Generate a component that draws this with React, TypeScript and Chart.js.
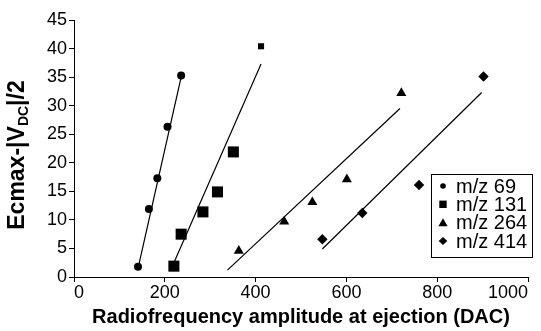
import React, { useEffect, useRef } from "react";
import { Chart, registerables } from "chart.js";

Chart.register(...registerables);

// ---- data ----
const SERIES_NAMES = ["m/z 69", "m/z 131", "m/z 264", "m/z 414"];

const mz69X = [141, 165, 183.5, 206, 236];
const mz69Y = [1.8, 11.9, 17.3, 26.3, 35.3];

const mz131X = [220, 236, 284, 316, 351, 412];
const mz131Y = [1.9, 7.5, 11.4, 14.9, 21.9, 40.4];

const mz264X = [363, 463, 525, 601, 721];
const mz264Y = [4.6, 9.7, 13.1, 17.1, 32.2];

const mz414X = [547, 635, 760, 902];
const mz414Y = [6.6, 11.2, 16.1, 35.1];

// trend line end points
const fit69X = [141, 236];
const fit69Y = [1.5, 35];
const fit131X = [214, 412];
const fit131Y = [1.4, 37.3];
const fit264X = [338, 718];
const fit264Y = [1.2, 29.5];
const fit414X = [547, 898];
const fit414Y = [4.9, 32.3];

const X_TICK_MIN = 0;
const X_TICK_MAX = 1000;
const X_TICK_STEP = 200;
const Y_TICK_MIN = 0;
const Y_TICK_MAX = 45;
const Y_TICK_STEP = 5;

const X_TITLE = "Radiofrequency amplitude at ejection (DAC)";
const Y_TITLE_PARTS = ["Ecmax-|V", "DC", "|/2"];

const FAMILY = '"Liberation Sans", Arial, Helvetica, sans-serif';

const toPts = (xs: number[], ys: number[]) => xs.map((x, i) => ({ x, y: ys[i] }));

const yTitlePlugin = {
  id: "yTitleSub",
  afterDraw(chart: any) {
    const ctx = chart.ctx as CanvasRenderingContext2D;
    const mainFont = `bold 23px ${FAMILY}`;
    const subFont = `bold 14px ${FAMILY}`;
    ctx.save();
    ctx.font = mainFont;
    const w1 = ctx.measureText(Y_TITLE_PARTS[0]).width;
    const w3 = ctx.measureText(Y_TITLE_PARTS[2]).width;
    ctx.font = subFont;
    const w2 = ctx.measureText(Y_TITLE_PARTS[1]).width;
    const total = w1 + w2 + w3;
    ctx.translate(18, 155);
    ctx.rotate(-Math.PI / 2);
    ctx.fillStyle = "#000";
    ctx.textBaseline = "middle";
    ctx.textAlign = "left";
    let x = -total / 2;
    ctx.font = mainFont;
    ctx.fillText(Y_TITLE_PARTS[0], x, 0);
    x += w1;
    ctx.font = subFont;
    ctx.fillText(Y_TITLE_PARTS[1], x, 6);
    x += w2;
    ctx.font = mainFont;
    ctx.fillText(Y_TITLE_PARTS[2], x, 0);
    ctx.restore();
  },
};

const legendPlugin = {
  id: "boxLegend",
  afterDraw(chart: any) {
    const ctx = chart.ctx as CanvasRenderingContext2D;
    const { right, bottom } = chart.chartArea;
    const left = right - 97;
    const top = bottom - 103;
    const w = 101;
    const h = 83;
    ctx.save();
    ctx.fillStyle = "#fff";
    ctx.fillRect(left, top, w, h);
    ctx.strokeStyle = "#000";
    ctx.lineWidth = 1;
    ctx.strokeRect(left + 0.5, top + 0.5, w, h);
    const rows = [12, 30.3, 48.7, 67];
    ctx.fillStyle = "#000";
    ctx.font = `20px ${FAMILY}`;
    ctx.textBaseline = "middle";
    ctx.textAlign = "left";
    SERIES_NAMES.forEach((name, i) => {
      const cy = top + rows[i];
      const cx = left + 12;
      ctx.beginPath();
      if (i === 0) {
        ctx.arc(cx, cy, 2.8, 0, Math.PI * 2);
      } else if (i === 1) {
        ctx.rect(cx - 3.7, cy - 3.7, 7.4, 7.4);
      } else if (i === 2) {
        ctx.moveTo(cx, cy - 4.5);
        ctx.lineTo(cx + 4.6, cy + 3.5);
        ctx.lineTo(cx - 4.6, cy + 3.5);
        ctx.closePath();
      } else {
        ctx.moveTo(cx, cy - 4);
        ctx.lineTo(cx + 4.3, cy);
        ctx.lineTo(cx, cy + 4);
        ctx.lineTo(cx - 4.3, cy);
        ctx.closePath();
      }
      ctx.fill();
      ctx.fillText(name, left + 25, cy + 1);
    });
    ctx.restore();
  },
};

export default function App() {
  const ref = useRef<HTMLCanvasElement | null>(null);

  useEffect(() => {
    if (!ref.current) return;
    const tickFont = { family: FAMILY, size: 18 };
    const lineDs = (xs: number[], ys: number[]) => ({
      data: toPts(xs, ys),
      showLine: true,
      borderColor: "#000",
      borderWidth: 1.2,
      pointRadius: 0,
      fill: false,
      order: 2,
    });
    const markerDs = (xs: number[], ys: number[], style: string, radius: number | number[]) => ({
      data: toPts(xs, ys),
      showLine: false,
      pointStyle: style,
      pointRadius: radius,
      pointBackgroundColor: "#000",
      pointBorderColor: "#000",
      pointBorderWidth: 0,
      order: 1,
    });

    const chart = new Chart(ref.current, {
      type: "scatter",
      data: {
        datasets: [
          lineDs(fit69X, fit69Y),
          lineDs(fit131X, fit131Y),
          lineDs(fit264X, fit264Y),
          lineDs(fit414X, fit414Y),
          { label: SERIES_NAMES[0], ...markerDs(mz69X, mz69Y, "circle", 4) },
          { label: SERIES_NAMES[1], ...markerDs(mz131X, mz131Y, "rect", [7.8, 7.8, 7.8, 7.8, 7.8, 4.3]) },
          { label: SERIES_NAMES[2], ...markerDs(mz264X, mz264Y, "triangle", 5.8) },
          { label: SERIES_NAMES[3], ...markerDs(mz414X, mz414Y, "rectRot", 5.2) },
        ] as any,
      },
      options: {
        responsive: false,
        animation: false,
        devicePixelRatio: 1,
        layout: { padding: { top: 20, right: 13, left: 0, bottom: 0 } },
        plugins: {
          legend: { display: false },
          tooltip: { enabled: false },
        },
        scales: {
          x: {
            type: "linear",
            min: X_TICK_MIN,
            max: X_TICK_MAX,
            ticks: {
              stepSize: X_TICK_STEP,
              align: "inner",
              maxRotation: 0,
              color: "#000",
              font: tickFont,
              padding: 0,
              callback: (v: any) => String(v),
            },
            grid: { drawOnChartArea: false, drawTicks: true, tickLength: 5, color: "#000" },
            border: { display: true, color: "#000", width: 1 },
            title: {
              display: true,
              text: X_TITLE,
              color: "#000",
              font: { family: FAMILY, size: 20, weight: "bold", lineHeight: 1.2 },
              padding: { top: 0, bottom: 2 },
            },
            afterFit(scale: any) {
              scale.height = 54;
            },
          },
          y: {
            type: "linear",
            min: Y_TICK_MIN,
            max: Y_TICK_MAX,
            ticks: {
              stepSize: Y_TICK_STEP,
              color: "#000",
              font: tickFont,
              padding: 2,
              callback: (v: any) => String(v),
            },
            grid: { drawOnChartArea: false, drawTicks: true, tickLength: 5, color: "#000" },
            border: { display: true, color: "#000", width: 1 },
            afterFit(scale: any) {
              scale.width = 74;
            },
          },
        },
      } as any,
      plugins: [yTitlePlugin, legendPlugin],
    });
    return () => chart.destroy();
  }, []);

  return (
    <div style={{ position: "absolute", left: 0, top: 0, width: 541, height: 331, background: "#fff" }}>
      <canvas ref={ref} width={541} height={331} style={{ display: "block" }} />
    </div>
  );
}
